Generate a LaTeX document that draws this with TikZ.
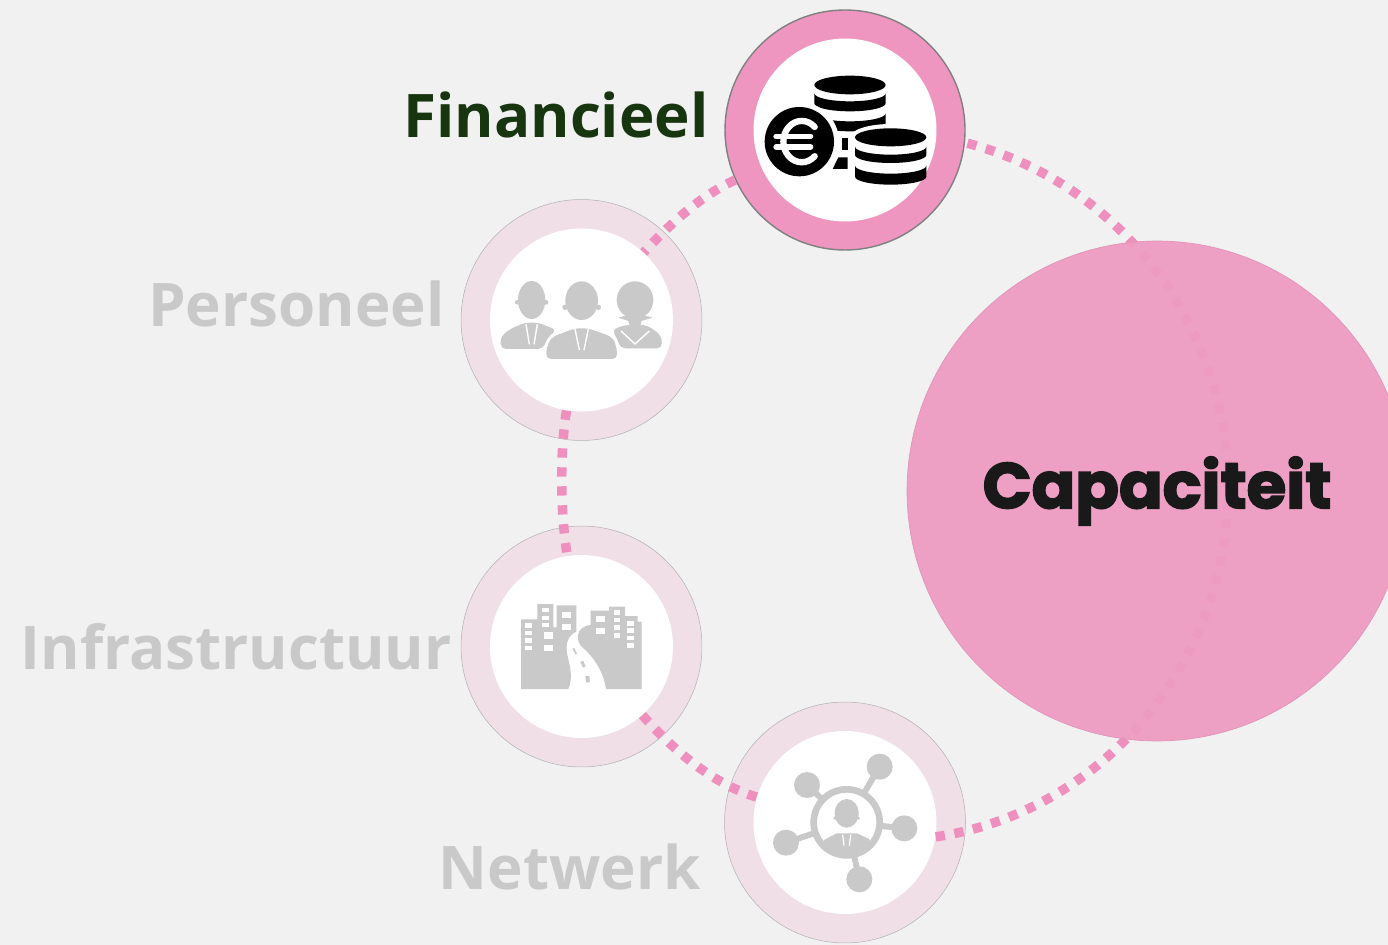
\documentclass[tikz,border=0pt]{standalone}
\usepackage{fontspec}
\setmainfont{Open Sans}
\newfontfamily\capfont[UprightFont=* Bold,FakeBold=2.6]{Poppins}
\definecolor{pagebg}{HTML}{F1F1F1}
\definecolor{pinkdash}{HTML}{EE8FBE}
\definecolor{pinkring}{HTML}{EE96C0}
\definecolor{pinklight}{HTML}{F1DFE8}
\definecolor{pinkcap}{HTML}{EE9CC2}
\definecolor{iconoff}{HTML}{C9C9C9}
\definecolor{labelon}{HTML}{17350E}
\tikzset{
    ringoff/.style={circle, inner sep=0pt, minimum size=4.82cm, fill=pinklight, draw=black!30, line width=0.3pt},
    ringon/.style={circle, inner sep=0pt, minimum size=4.8cm, fill=pinkring, draw=black!50, line width=0.8pt},
    holedisc/.style={circle, inner sep=0pt, minimum size=3.66cm, fill=white},
    dotline/.style={pinkdash, line width=5.4pt, dash pattern=on 5.3pt off 5.5pt},
    capnode/.style={circle, inner sep=0pt, minimum size=10cm, fill=pinkcap, draw=pinkcap!95!black, line width=0.4pt, fill opacity=0.95, draw opacity=1, text opacity=1, text=black!90},
    labeltext/.style={anchor=base east, inner sep=0pt, font=\bfseries\fontsize{34.2}{35}\selectfont, text=iconoff},
    iconfill/.style={fill=iconoff, draw=none}
}
% one black slice of a coin stack: centre x, half width, top y, height
\newcommand{\coinband}[4]{
    \fill[black] ({#1-#2},#3) arc[start angle=180, end angle=0, x radius=#2, y radius=24] -- ++(0,#4) arc[start angle=0, end angle=180, x radius=#2, y radius=24] -- cycle;
}
\begin{document}
\begin{tikzpicture}[x=0.02cm, y=-0.02cm]
    \useasboundingbox[fill=pagebg] (0,0) rectangle (1388,945);

    % rings
    \node[ringoff] (personeel) at (581.5,320) {};
    \node[ringoff] (infra) at (581.5,646.5) {};
    \node[ringoff] (netwerk) at (845,822.5) {};
    \node[ringon] (financieel) at (845,130) {};
    \node[holedisc] (personeelin) at (581.5,320) {};
    \node[holedisc] (infrain) at (581.5,646.5) {};
    \node[holedisc] (netwerkin) at (845,822.5) {};
    \node[holedisc] (financieelin) at (845,130) {};
    \coordinate (rightmid) at (1228,488);

    % dotted track
    \draw[dotline] (financieel) .. controls (700,196) and (670,224) .. (personeelin);
    \draw[dotline] (personeelin) .. controls (560,450) and (560,510) .. (infrain);
    \draw[dotline] (infrain) .. controls (675,752) and (715,785) .. (netwerkin);
    \draw[dotline] (netwerkin.-9) .. controls (1103,812) and (1228,663) .. (rightmid);
    \draw[dotline] (rightmid) .. controls (1228,324) and (1119,182) .. (financieel.-6);

    % big circle
    \node[capnode] (capaciteit) at (1157,491) {\raisebox{-2.2pt}{\capfont\fontsize{36.6}{37}\selectfont Capaciteit}};

    % labels
    \node[labeltext, text=labelon] (financieellabel) at (709,138) {Financieel};
    \node[labeltext] (personeellabel) at (445,327) {Personeel};
    \node[labeltext] (infralabel) at (452,669) {Infrastructuur};
    \node[labeltext] (netwerklabel) at (701,889) {Netwerk};

    % coins
    \begin{scope}[shift={(720,0)}, scale=1/3]
        \fill[black] (390,255) ellipse (107 and 28);
        \coinband{390}{107}{280}{30}
        \coinband{390}{107}{340}{30}
        \fill[black] (365,415) rectangle (383,450);
        \fill[black] (355,472) -- (383,472) -- (383,507) -- (338,507) -- cycle;
        \fill[white] (238,425) circle (119);
        \fill[black] (238,425) circle (104);
        \draw[white, line width=3.6pt, line cap=round] (284,381) arc[start angle=-45, end angle=-315, x radius=55, y radius=62];
        \draw[white, line width=3pt, line cap=round] (168,409) -- (272,409);
        \draw[white, line width=3pt, line cap=round] (168,441) -- (272,441);
        \fill[white] (512,412) ellipse (122 and 40);
        \fill[white] (392,412) rectangle (500,540);
        \fill[black] (512,412) ellipse (107 and 27);
        \coinband{512}{107}{440}{25}
        \coinband{512}{107}{497}{33}
    \end{scope}

    % people
    \begin{scope}[shift={(460,195)}, scale=1/3]
        \fill[iconfill] (215,315) ellipse (41 and 57);
        \fill[iconfill] (172,322) circle (7);
        \fill[iconfill] (258,322) circle (7);
        \fill[iconfill, rounded corners=3pt] (122,462) -- (122,425) -- (150,402) -- (195,383) -- (235,383) -- (290,405) -- (262,428) -- (250,462) -- cycle;
        \draw[white, line width=0.8pt] (198,388) -- (208,448) (232,388) -- (222,448);
        \fill[iconfill] (365,317) ellipse (49 and 58);
        \fill[iconfill] (315,337) circle (8);
        \fill[iconfill] (415,337) circle (8);
        \fill[iconfill, rounded corners=3pt] (257,492) -- (262,448) -- (278,425) -- (345,400) -- (385,400) -- (455,425) -- (468,448) -- (473,492) -- cycle;
        \draw[white, line width=0.8pt] (345,402) -- (358,465) (385,402) -- (372,465);
        \fill[iconfill] (525,315) ellipse (55 and 56);
        \fill[iconfill] (475,368) .. controls (500,358) and (550,358) .. (577,368) -- (545,378) -- (540,395) -- (510,395) -- (505,378) -- cycle;
        \fill[iconfill, rounded corners=3pt] (455,405) -- (495,390) -- (560,390) -- (603,420) -- (607,460) -- (480,460) -- (472,430) -- cycle;
        \draw[white, line width=0.8pt] (483,408) -- (525,447) -- (568,408);
    \end{scope}

    % city and road
    \begin{scope}[shift={(460,520)}, scale=1/3]
        \fill[iconfill] (183,507) -- (183,298) -- (232,298) -- (232,252) -- (280,252) -- (280,322) -- (290,322) -- (290,256) -- (349,256) -- (349,335) .. controls (325,345) and (315,370) .. (322,405) .. controls (330,440) and (340,470) .. (325,507) -- cycle;
        \fill[iconfill] (438,507) .. controls (430,450) and (395,405) .. (370,385) .. controls (345,365) and (345,320) .. (392,315) -- (392,272) -- (447,272) -- (447,260) -- (495,260) -- (495,288) -- (533,288) -- (533,305) -- (545,305) -- (545,507) -- cycle;
        \foreach \wy in {317,339,362,384} {\fill[white] (196,\wy-7) rectangle ++(20,14);}
        \foreach \wy in {270,294,315} {\fill[white] (247,\wy-7) rectangle ++(20,14);}
        \foreach \wy in {285,322} {\fill[white] (306,\wy-9) rectangle ++(26,18);}
        \foreach \wy in {346,384} {\fill[white] (252,\wy-10) rectangle ++(26,20);}
        \foreach \wy in {297,333} {\fill[white] (408,\wy-9) rectangle ++(26,18);}
        \foreach \wy in {278,300,323,346} {\fill[white] (461,\wy-7) rectangle ++(20,14);}
        \foreach \wy in {310,332,354,377} {\fill[white] (502,\wy-7) rectangle ++(20,14);}
        \draw[iconoff, line width=1pt] (340,385) -- (349,402);
        \draw[iconoff, line width=1.7pt] (365,424) -- (373,441);
        \draw[iconoff, line width=2.2pt] (382,468) -- (384,487);
    \end{scope}

    % network
    \begin{scope}[shift={(720,695)}, scale=1/3]
        \foreach \sx/\sy in {261/270, 479/215, 553/400, 418/553, 198/443} {
            \draw[iconoff, line width=3.4pt] (380,382) -- (\sx,\sy);
            \fill[iconfill] (\sx,\sy) circle (39);
        }
        \fill[white] (380,382) circle (99);
        \begin{scope}
            \clip (380,382) circle (99);
            \fill[iconfill] (380,355) ellipse (36 and 43);
            \fill[iconfill] (345,370) circle (5);
            \fill[iconfill] (415,370) circle (5);
            \fill[iconfill] (300,490) -- (312,435) -- (350,415) -- (410,415) -- (448,432) -- (460,490) -- cycle;
            \draw[white, line width=0.7pt] (368,420) -- (372,452) (392,420) -- (388,452);
        \end{scope}
        \draw[iconoff, line width=3.8pt] (380,382) circle (99);
    \end{scope}
\end{tikzpicture}
\end{document}
